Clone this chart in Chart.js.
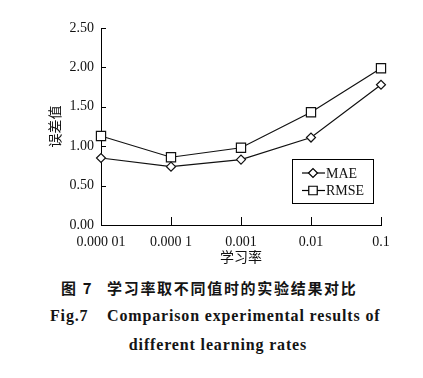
<!DOCTYPE html>
<html>
<head>
<meta charset="utf-8">
<script src="https://cdn.jsdelivr.net/npm/chart.js@4.4.0/dist/chart.umd.min.js"></script>
<style>
body { margin: 0; background: #fff; width: 423px; height: 378px; position: relative; overflow: hidden; }
#chart { position: absolute; left: 0; top: 0; }
.cap { position: absolute; white-space: nowrap; color: #141414; }
.zh { font-family: "Noto Sans CJK SC", sans-serif; font-weight: bold; font-size: 15px; line-height: 20px; letter-spacing: 1.7px; }
.en { font-family: "Liberation Serif", serif; font-weight: bold; font-size: 16px; line-height: 20px; letter-spacing: 0.85px; }
</style>
</head>
<body>
<canvas id="chart" width="423" height="265"></canvas>
<div class="cap zh" style="left:61px;top:278px">图 7</div>
<div class="cap zh" style="left:107px;top:278px">学习率取不同值时的实验结果对比</div>
<div class="cap en" style="left:50px;top:306px">Fig.7</div>
<div class="cap en" style="left:107px;top:306px">Comparison experimental results of</div>
<div class="cap en" style="left:0;width:436px;text-align:center;top:335px">different learning rates</div>
<script>
// data
const rates = ["0.000 01", "0.000 1", "0.001", "0.01", "0.1"];
const mae = [0.85, 0.74, 0.83, 1.11, 1.78];
const rmse = [1.13, 0.86, 0.98, 1.43, 1.99];
const yTicks = [0, 0.5, 1, 1.5, 2, 2.5];

const serif = "'Liberation Serif', 'Times New Roman', serif";
const cjk = "'Noto Sans CJK SC', sans-serif";

// tick marks drawn inside the plot, like the original
const innerTicks = {
    id: 'innerTicks',
    beforeDatasetsDraw(chart) {
        const ctx = chart.ctx;
        const x = chart.scales.x;
        const y = chart.scales.y;
        ctx.save();
        ctx.strokeStyle = '#000';
        ctx.lineWidth = 1;
        x.ticks.forEach((t, i) => {
            if (i === 0) return;
            const px = Math.round(x.getPixelForTick(i)) + 0.5;
            ctx.beginPath();
            ctx.moveTo(px, x.top);
            ctx.lineTo(px, x.top - 8);
            ctx.stroke();
        });
        y.ticks.forEach((t, i) => {
            const py = Math.round(y.getPixelForTick(i)) + 0.5;
            ctx.beginPath();
            ctx.moveTo(y.right, py);
            ctx.lineTo(y.right + 5, py);
            ctx.stroke();
        });
        ctx.restore();
    }
};

// boxed legend inside the plot area
const boxLegend = {
    id: 'boxLegend',
    afterDraw(chart) {
        const ctx = chart.ctx;
        const area = chart.chartArea;
        const left = area.right - 89;
        const top = area.top + 131;
        ctx.save();
        ctx.fillStyle = '#fff';
        ctx.strokeStyle = '#000';
        ctx.lineWidth = 1;
        ctx.fillRect(left, top, 81, 44);
        ctx.strokeRect(left + 0.5, top + 0.5, 81, 44);
        chart.data.datasets.forEach((ds, i) => {
            const cy = top + 14 + i * 17.5;
            ctx.strokeStyle = '#000';
            ctx.lineWidth = 1.2;
            ctx.beginPath();
            ctx.moveTo(left + 10, cy);
            ctx.lineTo(left + 33, cy);
            ctx.stroke();
            ctx.fillStyle = '#fff';
            Chart.helpers.drawPoint(ctx, {
                pointStyle: ds.pointStyle,
                radius: ds.pointStyle === 'rect' ? 6 : 4.5,
                rotation: 0,
                borderWidth: 1.2
            }, left + 21, cy);
            ctx.fillStyle = '#111';
            ctx.font = "14px " + serif;
            ctx.textBaseline = 'middle';
            ctx.fillText(ds.label, left + 34, cy + 1);
        });
        ctx.restore();
    }
};

new Chart(document.getElementById('chart'), {
    type: 'line',
    data: {
        labels: rates,
        datasets: [{
            label: 'MAE',
            data: mae,
            borderColor: '#111',
            borderWidth: 1.2,
            pointStyle: 'rectRot',
            pointRadius: 4.5,
            pointBackgroundColor: '#fff',
            pointBorderColor: '#111',
            pointBorderWidth: 1.2,
            tension: 0
        }, {
            label: 'RMSE',
            data: rmse,
            borderColor: '#111',
            borderWidth: 1.2,
            pointStyle: 'rect',
            pointRadius: 6.5,
            pointBackgroundColor: '#fff',
            pointBorderColor: '#111',
            pointBorderWidth: 1.2,
            tension: 0
        }]
    },
    options: {
        responsive: false,
        animation: false,
        layout: { padding: { left: 0, top: 28, right: 42, bottom: 0 } },
        plugins: {
            legend: { display: false },
            tooltip: { enabled: false }
        },
        scales: {
            x: {
                offset: false,
                afterFit: (scale) => { scale.height = 40; },
                grid: { drawOnChartArea: false, drawTicks: false },
                border: { color: '#000', width: 1 },
                ticks: { color: '#111', padding: 9, font: { family: serif, size: 14 }, maxRotation: 0 },
                title: { display: true, text: '学习率', color: '#111', font: { family: cjk, size: 14 }, padding: { top: 0, bottom: 0 } }
            },
            y: {
                min: 0,
                max: 2.5,
                afterFit: (scale) => { scale.width = 101; },
                afterBuildTicks: (scale) => { scale.ticks = yTicks.map(v => ({ value: v })); },
                grid: { drawOnChartArea: false, drawTicks: false },
                border: { color: '#000', width: 1 },
                ticks: { color: '#111', padding: 7, font: { family: serif, size: 14 }, callback: (v) => v.toFixed(2) },
                title: { display: true, text: '误差值', color: '#111', font: { family: cjk, size: 14 }, padding: { top: 46, bottom: 0 } }
            }
        }
    },
    plugins: [innerTicks, boxLegend]
});
</script>
</body>
</html>
